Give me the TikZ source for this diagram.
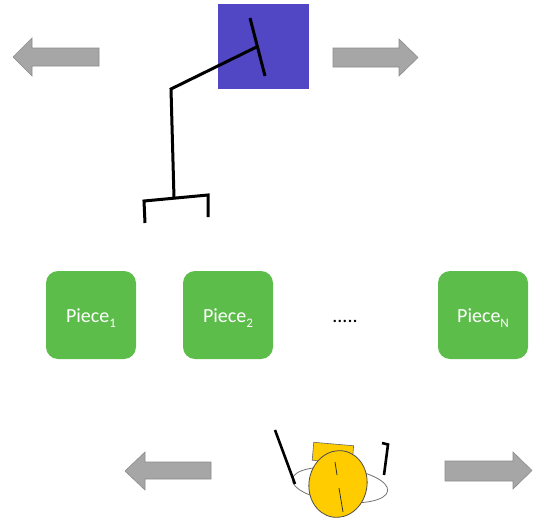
\documentclass[tikz,border=0pt]{standalone}
\usepackage{fontspec}
\setmainfont{Carlito}
\definecolor{panelblue}{RGB}{81,70,196}
\definecolor{piecegreen}{RGB}{92,189,75}
\definecolor{arrowgrey}{RGB}{166,166,166}
\definecolor{arrowedge}{RGB}{140,140,140}
\definecolor{headyellow}{RGB}{255,204,0}
\begin{document}
\begin{tikzpicture}[x=1pt,y=-1pt,
  piece/.style={draw=none,fill=piecegreen,rounded corners=12pt,minimum width=90pt,
    minimum height=88pt,text=white,font=\fontsize{20}{24}\selectfont,inner sep=0pt,
    text height=14pt,text depth=0pt},
  bigarrow/.style={fill=arrowgrey,draw=arrowedge,line width=0.6pt,line join=miter},
  limb/.style={line width=3pt,line cap=butt,line join=miter}
]
\useasboundingbox (0,0) rectangle (533,522);
\newcommand{\sub}[1]{\raisebox{-0.28em}{\fontsize{13}{13}\selectfont #1}}

% sliding panel with the arm
\node[draw=none,fill=panelblue,minimum width=91pt,minimum height=85pt,inner sep=0pt,anchor=north west] (panel) at (218,4) {};
\coordinate (headtop) at (250,18);
\coordinate (headbot) at (265,76);
\coordinate (wrist) at (256.5,47);
\coordinate (elbow) at (171,89);
\coordinate (base) at (174,198);
\coordinate (barL) at (144,201);
\coordinate (barR) at (208,195);
\coordinate (legL) at (145,223);
\coordinate (legR) at (208,217);
\draw[limb] (headtop) -- (headbot);
\draw[limb] (wrist) -- (elbow) -- (base);
\draw[limb] (legL) -- (barL) -- (barR) -- (legR);

% direction arrows, top
\draw[bigarrow] (99,48) -- (32,48) -- (32,38) -- (13,57) -- (32,76) -- (32,66) -- (99,66) -- cycle;
\draw[bigarrow] (333,48) -- (399,48) -- (399,39) -- (418,57.5) -- (399,76) -- (399,67) -- (333,67) -- cycle;

% the pieces
\node[piece] (p1) at (91,315) {Piece\sub{1}};
\node[piece] (p2) at (228,315) {Piece\sub{2}};
\node[font=\fontsize{20}{24}\selectfont,inner sep=0pt,anchor=base] (dots) at (345,322) {.....};
\node[piece] (pN) at (483,315) {Piece\sub{N}};

% direction arrows, bottom
\draw[bigarrow] (211,462) -- (145,462) -- (145,452) -- (125,471) -- (145,490) -- (145,479) -- (211,479) -- cycle;
\draw[bigarrow] (445,461) -- (513,461) -- (513,452) -- (532,470.5) -- (513,489) -- (513,481) -- (445,481) -- cycle;

% operator seen from above
\draw[draw=black!55,fill=white,line width=0.8pt,rotate around={-7:(340,485)}] (340,485) ellipse (48pt and 17pt);
\draw[limb,line width=2.6pt] (275,430) -- (295,484);
\draw[limb,line width=2.6pt] (382,443) -- (388,444.5) -- (384,475);
\draw[fill=headyellow,draw=black!60,line width=0.6pt,rotate around={-5:(333,452)}] (313,444) rectangle (353,462);
\draw[fill=headyellow,draw=black!70,line width=0.8pt,rotate around={-10:(338,484)}] (338,484) ellipse (29pt and 33.5pt);
\draw[line width=0.8pt,black!80] (335,462) -- (337,475);
\draw[line width=0.8pt,black!80] (339,488) -- (343,512);
\end{tikzpicture}
\end{document}
